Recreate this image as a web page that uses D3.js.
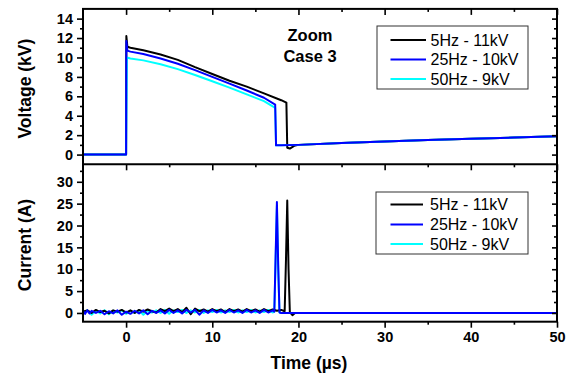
<!DOCTYPE html>
<html><head><meta charset="utf-8">
<script src="https://cdn.jsdelivr.net/npm/d3@7"></script>
<style>
html,body{margin:0;padding:0;background:#fff;}
svg{display:block;font-family:"Liberation Sans",Arial,sans-serif;}
</style></head>
<body>
<svg id="c" width="569" height="378"></svg>
<script>
// ---------- DATA ----------
const seriesNames = ["5Hz - 11kV", "25Hz - 10kV", "50Hz - 9kV"];
const seriesColors = ["#000000", "#0000ff", "#00ffff"];

const vTimeBlack = [-5,-0.05,0,0.03,0.15,0.5,2,4,6,8,10,12,14,16,18,18.6,18.7,19,19.5,20,25,30,35,40,45,50];
const vBlack     = [0,0,0,12.2,11.1,11.0,10.75,10.3,9.75,9.0,8.3,7.6,7.0,6.3,5.6,5.35,0.7,0.62,0.9,1.0,1.2,1.36,1.5,1.62,1.75,1.88];

const vTimeBlue  = [-5,-0.05,0,0.03,0.15,0.5,2,4,6,8,10,12,14,16,17.3,17.4,18,20,25,30,35,40,45,50];
const vBlue      = [0,0,0,11.7,10.7,10.6,10.35,9.9,9.35,8.7,8.0,7.3,6.6,5.85,5.15,0.95,0.95,1.0,1.2,1.36,1.5,1.62,1.75,1.88];

const vTimeCyan  = [-5,-0.05,0,0.1,0.5,2,4,6,8,10,12,14,16,17.3,17.4,18,20,25,30,35,40,45,50];
const vCyan      = [0,0,0,10.0,9.9,9.7,9.3,8.8,8.2,7.55,6.9,6.2,5.5,4.8,0.95,0.95,1.0,1.2,1.36,1.5,1.62,1.75,1.88];

const iTimeBlack = [-5,-4.5,-4,-3.5,-3,-2.5,-2,-1.5,-1,-0.5,0,0.5,1,1.5,2,2.5,3,3.5,4,4.5,5,5.5,6,6.5,7,7.5,8,8.5,9,9.5,10,10.5,11,11.5,12,12.5,13,13.5,14,14.5,15,15.5,16,16.5,17,17.5,18,18.4,18.55,18.7,18.85,19,19.3,19.6,20,50];
const iBlack     = [0.3,0.6,0.0,0.7,0.2,0.5,-0.1,0.6,0.3,0.7,0.1,0.6,0.0,0.7,0.3,0.8,0.4,0.1,0.9,0.4,1.0,0.4,0.9,0.2,1.2,-0.3,1.0,0.4,0.8,0.3,0.9,0.4,0.8,0.2,0.9,0.4,0.8,0.3,0.9,0.4,0.8,0.3,0.9,0.4,0.8,0.5,0.7,0.4,12,25.7,10,0.2,-0.5,0.0,0.0,0.0];

const iTimeBlue  = [-5,-4.75,-4.5,-4.25,-4,-3.5,-3,-2.5,-2,-1.5,-1,-0.5,0,0.5,1,1.5,2,2.5,3,3.5,4,4.5,5,5.5,6,6.5,7,7.5,8,8.5,9,9.5,10,10.5,11,11.5,12,12.5,13,13.5,14,14.5,15,15.5,16,16.5,17,17.2,17.35,17.5,17.65,17.8,18,50];
const iBlue      = [0.5,-0.2,0.6,-0.1,0.5,0.0,0.5,-0.3,0.4,-0.1,0.6,-0.4,0.3,-0.2,0.5,-0.1,0.6,-0.3,0.5,0.0,0.6,-0.1,0.7,0.0,0.6,-0.1,0.7,0.1,0.7,-0.4,0.6,0.0,0.7,0.1,0.6,0.0,0.7,0.1,0.6,0.0,0.7,0.1,0.6,0.0,0.7,0.1,0.6,0.3,13,25.4,11,0.1,0.0,0.0];

const iTimeCyan  = [-5,-4.5,-4,-3.5,-3,-2.5,-2,-1.5,-1,-0.5,0,0.5,1,1.5,2,2.5,3,3.5,4,4.5,5,5.5,6,6.5,7,7.5,8,8.5,9,9.5,10,10.5,11,11.5,12,12.5,13,13.5,14,14.5,15,15.5,16,16.5,17,17.2,17.35,17.5,17.65,17.8,18,50];
const iCyan      = [0.1,0.6,-0.4,0.5,-0.1,0.6,-0.3,0.5,0.1,0.6,-0.2,0.5,0.0,0.6,-0.4,0.5,0.1,0.6,0.0,0.7,-0.2,0.6,0.2,0.7,0.0,0.6,0.1,0.7,0.0,0.6,0.2,0.7,0.1,0.6,0.2,0.7,0.1,0.6,0.2,0.7,0.1,0.6,0.2,0.7,0.1,0.3,12,24.5,10,0.1,0.0,0.0];

const xTicks = [0,10,20,30,40,50];
const xMinor = [5,15,25,35,45];
const vTicks = [0,2,4,6,8,10,12,14];
const vMinor = [1,3,5,7,9,11,13];
const iTicks = [0,5,10,15,20,25,30];
const iMinor = [2.5,7.5,12.5,17.5,22.5,27.5,32.5];

// ---------- LAYOUT ----------
const svg = d3.select("#c");
const L = 83, R = 557, T = 8.9, M = 164.3, B = 321.7;
const x = d3.scaleLinear().domain([-5,50]).range([L,R]);
const yV = d3.scaleLinear().domain([-1,15]).range([M,T]);
const yI = d3.scaleLinear().domain([-2,34]).range([B,M]);

const defs = svg.append("defs");
defs.append("clipPath").attr("id","cv").append("rect").attr("x",L).attr("y",T).attr("width",R-L).attr("height",M-T);
defs.append("clipPath").attr("id","ci").append("rect").attr("x",L).attr("y",M).attr("width",R-L).attr("height",B-M);

function drawLine(ts, vs, y, color, clip){
  const pts = ts.map((t,i)=>[t,vs[i]]);
  svg.append("path").datum(pts)
    .attr("clip-path","url(#"+clip+")")
    .attr("fill","none").attr("stroke",color).attr("stroke-width",2)
    .attr("stroke-linejoin","round")
    .attr("d", d3.line().x(d=>x(d[0])).y(d=>y(d[1])));
}
// voltage
drawLine(vTimeBlack, vBlack, yV, seriesColors[0], "cv");
drawLine(vTimeCyan, vCyan, yV, seriesColors[2], "cv");
drawLine(vTimeBlue, vBlue, yV, seriesColors[1], "cv");
// current
drawLine(iTimeCyan, iCyan, yI, seriesColors[2], "ci");
drawLine(iTimeBlack, iBlack, yI, seriesColors[0], "ci");
drawLine(iTimeBlue, iBlue, yI, seriesColors[1], "ci");

// ---------- AXES ----------
function axisG(axis, tx, ty, fontSize){
  const g = svg.append("g").attr("transform",`translate(${tx},${ty})`).call(axis);
  g.select(".domain").remove();
  g.selectAll("line").attr("stroke","#000").attr("stroke-width",1.6);
  g.selectAll("text").attr("font-size",fontSize||14.5).attr("font-weight","bold").attr("fill","#000")
    .attr("font-family","'Liberation Sans',Arial,sans-serif");
  return g;
}
// left axes (outward)
axisG(d3.axisLeft(yV).tickValues(vTicks).tickSize(6).tickPadding(4).tickFormat(d3.format("d")), L, 0);
axisG(d3.axisLeft(yV).tickValues(vMinor).tickSize(3).tickFormat(""), L, 0);
axisG(d3.axisLeft(yI).tickValues(iTicks).tickSize(6).tickPadding(4).tickFormat(d3.format("d")), L, 0);
axisG(d3.axisLeft(yI).tickValues(iMinor).tickSize(3).tickFormat(""), L, 0);
// right axes (inward)
axisG(d3.axisRight(yV).tickValues(vTicks).tickSize(-5).tickFormat(""), R, 0);
axisG(d3.axisRight(yV).tickValues(vMinor).tickSize(-3).tickFormat(""), R, 0);
axisG(d3.axisRight(yI).tickValues(iTicks).tickSize(-5).tickFormat(""), R, 0);
axisG(d3.axisRight(yI).tickValues(iMinor).tickSize(-3).tickFormat(""), R, 0);
// bottom axis (outward)
axisG(d3.axisBottom(x).tickValues(xTicks).tickSize(6).tickPadding(4).tickFormat(d3.format("d")), 0, B);
axisG(d3.axisBottom(x).tickValues(xMinor).tickSize(3).tickFormat(""), 0, B);
// top edge and divider (ticks pointing down)
[T, M].forEach(yy=>{
  axisG(d3.axisTop(x).tickValues(xTicks).tickSize(-6).tickFormat(""), 0, yy);
  axisG(d3.axisTop(x).tickValues(xMinor).tickSize(-3).tickFormat(""), 0, yy);
});

// frames
svg.append("rect").attr("x",L).attr("y",T).attr("width",R-L).attr("height",B-T)
  .attr("fill","none").attr("stroke","#000").attr("stroke-width",2);
svg.append("line").attr("x1",L).attr("x2",R).attr("y1",M).attr("y2",M).attr("stroke","#000").attr("stroke-width",2);

// axis titles
svg.append("text").attr("transform",`translate(31,${(T+M)/2+2}) rotate(-90)`).attr("text-anchor","middle")
  .attr("font-size",17.5).attr("font-weight","bold").text("Voltage (kV)");
svg.append("text").attr("transform",`translate(31,${(M+B)/2+2}) rotate(-90)`).attr("text-anchor","middle")
  .attr("font-size",17.5).attr("font-weight","bold").text("Current (A)");
svg.append("text").attr("x",309).attr("y",369).attr("text-anchor","middle")
  .attr("font-size",17.5).attr("font-weight","bold").text("Time (\u00b5s)");

// annotation
svg.append("text").attr("x",310).attr("y",41).attr("text-anchor","middle")
  .attr("font-size",16.5).attr("font-weight","bold").text("Zoom");
svg.append("text").attr("x",310).attr("y",62).attr("text-anchor","middle")
  .attr("font-size",16.5).attr("font-weight","bold").text("Case 3");

// legends
function legend(bx, by, bw, bh, rowYs, lx1, lx2, tx){
  svg.append("rect").attr("x",bx).attr("y",by).attr("width",bw).attr("height",bh)
    .attr("fill","#fff").attr("stroke","#333").attr("stroke-width",1);
  seriesNames.forEach((n,i)=>{
    svg.append("line").attr("x1",lx1).attr("x2",lx2).attr("y1",rowYs[i]).attr("y2",rowYs[i])
      .attr("stroke",seriesColors[i]).attr("stroke-width",2);
    svg.append("text").attr("x",tx).attr("y",rowYs[i]+5.5).attr("font-size",16).text(n);
  });
}
legend(377, 26, 151, 63, [40, 59.5, 79], 390.5, 426, 430.5);
legend(376, 192, 152, 62, [204.5, 224.5, 244], 390.5, 423, 430);
</script>
</body></html>
